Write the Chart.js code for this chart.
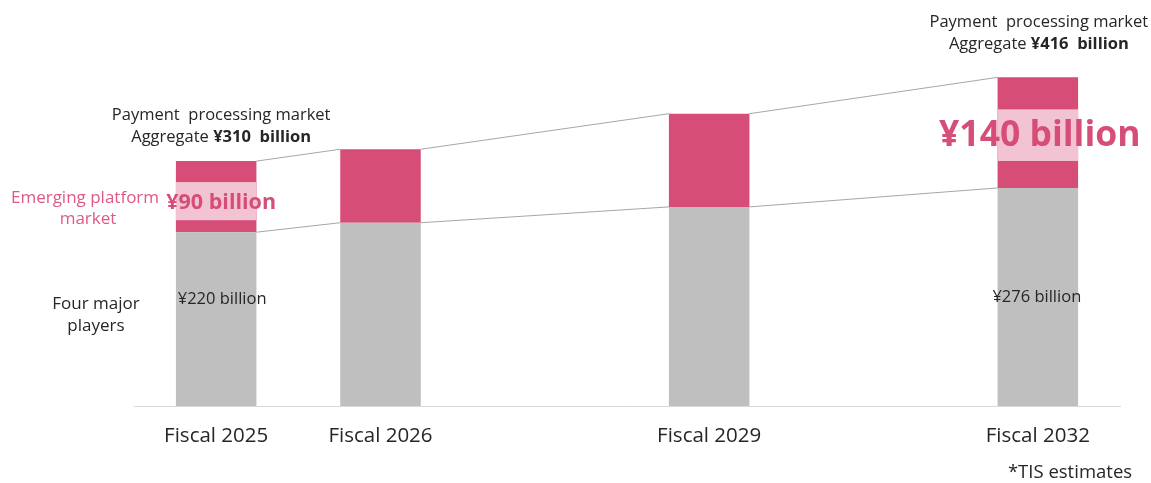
<!DOCTYPE html>
<html><head><meta charset="utf-8">
<script src="https://cdn.jsdelivr.net/npm/chart.js@4"></script>
<style>html,body{margin:0;padding:0;background:#fff}</style>
</head><body>
<canvas id="c" width="1151" height="483"></canvas>
<script>
// ---- data ----
const categories = ['Fiscal 2025', 'Fiscal 2026', '', 'Fiscal 2029', '', 'Fiscal 2032'];
const fourMajorPlayers = [220, 232, null, 252, null, 276];
const emergingPlatform = [90, 93, null, 118, null, 140];
const seriesNames = ['Four major players', 'Emerging platform market'];

// ---- styles ----
const FONT = '"Open Sans", "Noto Sans", sans-serif';
const GRAY = '#BFBFBF';
const RED = '#D64D77';
const BAND = '#F2C4D3';
const TEXT = '#262626';

function total(i) { return fourMajorPlayers[i] + emergingPlatform[i]; }

function drawRuns(ctx, runs, cx, cy) {
  let w = 0;
  runs.forEach(r => { ctx.font = r.font; r.w = ctx.measureText(r.text).width; w += r.w; });
  let x = cx - w / 2;
  ctx.textAlign = 'left';
  ctx.textBaseline = 'middle';
  runs.forEach(r => { ctx.font = r.font; ctx.fillStyle = r.color; ctx.fillText(r.text, x, cy); x += r.w; });
}

const annotPlugin = {
  id: 'annot',
  beforeDatasetsDraw(chart) {
    const ctx = chart.ctx;
    const m0 = chart.getDatasetMeta(0).data, m1 = chart.getDatasetMeta(1).data;
    const idx = fourMajorPlayers.map((v, i) => v == null ? -1 : i).filter(i => i >= 0);
    ctx.save();
    ctx.strokeStyle = '#A6A6A6';
    ctx.lineWidth = 1;
    for (let k = 0; k < idx.length - 1; k++) {
      const a = idx[k], b = idx[k + 1];
      [m0, m1].forEach(m => {
        const ea = m[a], eb = m[b];
        ctx.beginPath();
        ctx.moveTo(ea.x + ea.width / 2, ea.y);
        ctx.lineTo(eb.x - eb.width / 2, eb.y);
        ctx.stroke();
      });
    }
    ctx.restore();
  },
  afterDatasetsDraw(chart) {
    const ctx = chart.ctx;
    const m0 = chart.getDatasetMeta(0).data, m1 = chart.getDatasetMeta(1).data;
    ctx.save();
    // highlight bands in the emerging segment
    [[0, 21, 12], [5, 32, 27]].forEach(([i, ft, fb]) => {
      const e = m1[i];
      ctx.fillStyle = BAND;
      ctx.fillRect(e.x - e.width / 2, e.y + ft, e.width, (e.base - fb) - (e.y + ft));
    });
    // emerging value labels
    const e0 = m1[0], e5 = m1[5];
    drawRuns(ctx, [{ text: '¥' + emergingPlatform[0] + ' billion', font: 'bold 21.5px ' + FONT, color: RED }], e0.x + 5, 203);
    drawRuns(ctx, [{ text: '¥' + emergingPlatform[5] + ' billion', font: 'bold 35.5px ' + FONT, color: RED }], e5.x + 2, 136);
    // four major players value labels
    drawRuns(ctx, [{ text: '¥' + fourMajorPlayers[0] + ' billion', font: '16.5px ' + FONT, color: TEXT }], m0[0].x + 6, 299);
    drawRuns(ctx, [{ text: '¥' + fourMajorPlayers[5] + ' billion', font: '16.5px ' + FONT, color: TEXT }], m0[5].x - 1, 297);
    // aggregate labels
    [[0, 46, 24, 5], [5, 55, 33, 1]].forEach(([i, o1, o2, dx]) => {
      const e = m1[i];
      drawRuns(ctx, [{ text: 'Payment  processing market', font: '16.5px ' + FONT, color: TEXT }], e.x + dx, e.y - o1);
      drawRuns(ctx, [
        { text: 'Aggregate ', font: '16.5px ' + FONT, color: TEXT },
        { text: '¥' + total(i) + '  billion', font: 'bold 16.5px ' + FONT, color: TEXT }
      ], e.x + dx, e.y - o2);
    });
    // series labels on the left
    drawRuns(ctx, [{ text: 'Emerging platform', font: '17px ' + FONT, color: '#DD5A84' }], 85, 198);
    drawRuns(ctx, [{ text: 'market', font: '17px ' + FONT, color: '#DD5A84' }], 88, 219);
    drawRuns(ctx, [{ text: 'Four major', font: '17px ' + FONT, color: TEXT }], 96, 304);
    drawRuns(ctx, [{ text: 'players', font: '17px ' + FONT, color: TEXT }], 96, 326);
    // note
    drawRuns(ctx, [{ text: '*TIS estimates', font: '18.5px ' + FONT, color: TEXT }], 1070, 473);
    ctx.restore();
  }
};

new Chart(document.getElementById('c'), {
  type: 'bar',
  data: {
    labels: categories,
    datasets: [
      { label: seriesNames[0], data: fourMajorPlayers, backgroundColor: GRAY, barPercentage: 1, categoryPercentage: 0.49 },
      { label: seriesNames[1], data: emergingPlatform, backgroundColor: RED, barPercentage: 1, categoryPercentage: 0.49 }
    ]
  },
  options: {
    responsive: false,
    animation: false,
    layout: { padding: { left: 134, right: 31, top: 11, bottom: 0 } },
    plugins: { legend: { display: false }, tooltip: { enabled: false } },
    scales: {
      x: {
        stacked: true,
        grid: { display: false, drawTicks: false },
        border: { display: true, color: '#D9D9D9', width: 1 },
        ticks: { font: { family: FONT, size: 20.5 }, color: TEXT, padding: 18, maxRotation: 0, autoSkip: false },
        afterFit(s) { s.height = 77; }
      },
      y: { stacked: true, display: false, min: 0, max: 500 }
    }
  },
  plugins: [annotPlugin]
});
</script>
</body></html>
